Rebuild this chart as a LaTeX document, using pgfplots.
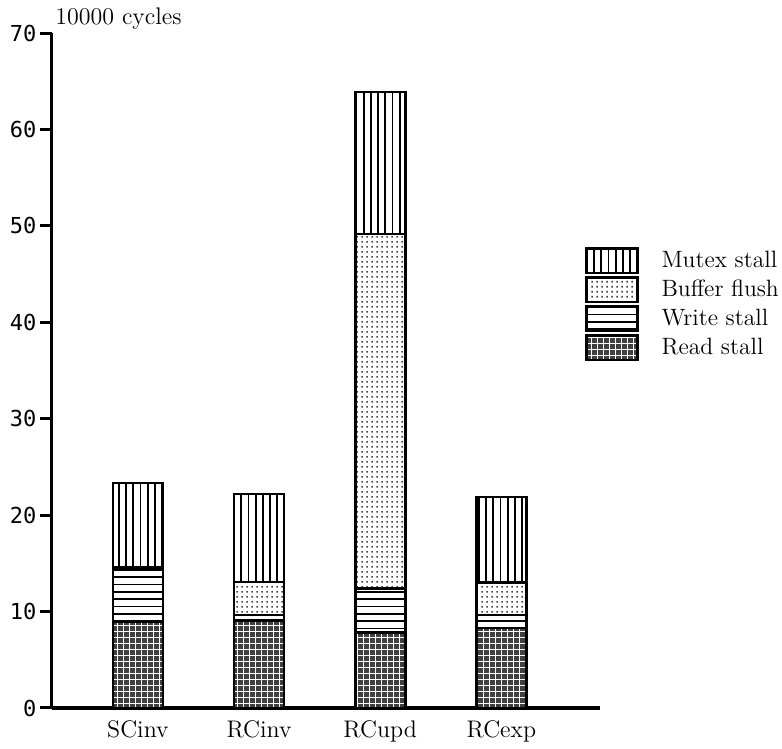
\documentclass[border=0pt]{standalone}
\usepackage{fontspec}
\newfontfamily\tickfont{DejaVu Sans Mono}
\usepackage{pgfplots}
\pgfplotsset{compat=1.18}
\usetikzlibrary{patterns}

\definecolor{readgray}{HTML}{404040}

\pgfdeclarepatternformonly{mvlines}{\pgfqpoint{-0.5pt}{-0.5pt}}{\pgfqpoint{4.1pt}{4.1pt}}{\pgfqpoint{3.6pt}{3.6pt}}{%
  \pgfsetlinewidth{0.9pt}%
  \pgfpathmoveto{\pgfqpoint{1.8pt}{-0.5pt}}\pgfpathlineto{\pgfqpoint{1.8pt}{4.1pt}}\pgfusepath{stroke}}
\pgfdeclarepatternformonly{mhlines}{\pgfqpoint{-0.5pt}{-0.5pt}}{\pgfqpoint{4.15pt}{4.15pt}}{\pgfqpoint{3.65pt}{3.65pt}}{%
  \pgfsetlinewidth{0.8pt}%
  \pgfpathmoveto{\pgfqpoint{-0.5pt}{1.825pt}}\pgfpathlineto{\pgfqpoint{4.15pt}{1.825pt}}\pgfusepath{stroke}}
\pgfdeclarepatternformonly{mdots}{\pgfqpoint{0pt}{0pt}}{\pgfqpoint{2.5pt}{2.5pt}}{\pgfqpoint{2.5pt}{2.5pt}}{%
  \pgfpathrectangle{\pgfqpoint{0.75pt}{0.75pt}}{\pgfqpoint{1pt}{1pt}}\pgfusepath{fill}}
\pgfdeclarepatternformonly{mgrid}{\pgfqpoint{-0.5pt}{-0.5pt}}{\pgfqpoint{3.5pt}{3.5pt}}{\pgfqpoint{3pt}{3pt}}{%
  \pgfsetlinewidth{0.5pt}%
  \pgfpathmoveto{\pgfqpoint{1.5pt}{-0.5pt}}\pgfpathlineto{\pgfqpoint{1.5pt}{3.5pt}}%
  \pgfpathmoveto{\pgfqpoint{-0.5pt}{1.5pt}}\pgfpathlineto{\pgfqpoint{3.5pt}{1.5pt}}\pgfusepath{stroke}}

\pgfplotsset{
  boxlegend/.style={legend image code/.code={\draw[##1] (0pt,-6.1pt) rectangle (25.3pt,6.1pt);}}
}

\begin{document}
\begin{tikzpicture}
\begin{axis}[
  scale only axis, width=274pt, height=337.5pt,
  xmin=-0.713, xmax=3.81, ymin=0, ymax=70,
  axis x line=bottom, axis y line=left,
  axis line style={-, line width=1.6pt},
  ybar stacked, bar width=25pt,
  every axis plot post/.append style={boxlegend},
  xtick={0,1,2,3}, xticklabels={SCinv,RCinv,RCupd,RCexp},
  x tick style={draw=none},
  ytick={0,10,...,70}, ytick align=outside,
  y tick style={line width=1.5pt, black},
  major tick length=5.5pt,
  /pgf/number format/assume math mode=true,
  yticklabel style={font=\tickfont\fontsize{11}{13}\selectfont, xshift=1.5pt},
  xticklabel style={font=\fontsize{12}{14}\selectfont},
  clip=false,
  reverse legend,
  legend cell align=left,
  legend style={draw=none, fill=none, at={(0.9735,0.683)}, anchor=north west,
    inner sep=0pt, row sep=1pt, font=\fontsize{11.8}{14}\selectfont,
    nodes={inner sep=0pt},
    /tikz/every odd column/.append style={column sep=11.5pt}},
]
\addplot[draw=black, line width=1.3pt, fill=readgray,
  postaction={pattern=mgrid, pattern color=white}]
  coordinates {(0,9.0) (1,9.1) (2,7.85) (3,8.3)};
\addplot[draw=black, line width=1.3pt, pattern=mhlines, pattern color=black]
  coordinates {(0,5.6) (1,0.55) (2,4.55) (3,1.35)};
\addplot[draw=black, line width=1.3pt, pattern=mdots, pattern color=readgray]
  coordinates {(0,0) (1,3.4) (2,36.75) (3,3.35)};
\addplot[draw=black, line width=1.3pt, pattern=mvlines, pattern color=black]
  coordinates {(0,8.75) (1,9.15) (2,14.75) (3,8.9)};
\legend{Read stall, Write stall, Buffer flush, Mutex stall}
\node[anchor=base west, inner sep=0pt, font=\fontsize{12}{14}\selectfont,
  xshift=1.75pt, yshift=4.5pt] at (rel axis cs:0,1) {10000 cycles};
\path (rel axis cs:0,0) ++(-25.75pt,-15.5pt) rectangle ++(391pt,369.5pt);
\end{axis}
\end{tikzpicture}
\end{document}
